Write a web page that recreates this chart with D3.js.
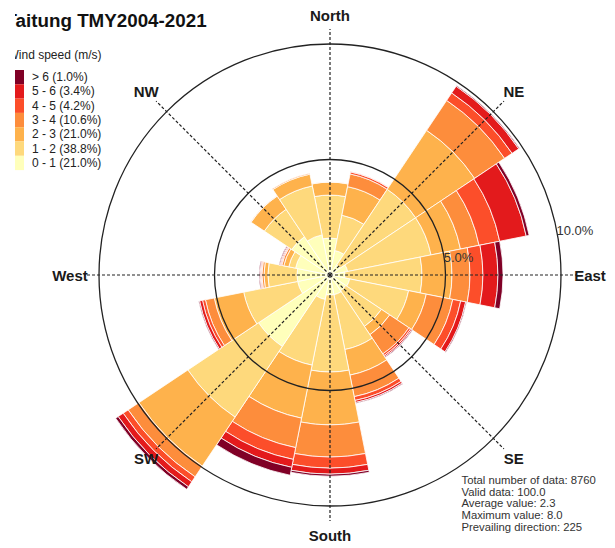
<!DOCTYPE html>
<html>
<head>
<meta charset="utf-8">
<script src="https://cdn.jsdelivr.net/npm/d3@7"></script>
<style>
  html, body { margin: 0; padding: 0; background: #fff; }
  svg { display: block; }
  text { font-family: "Liberation Sans", Arial, sans-serif; }
</style>
</head>
<body>
<svg id="chart" width="615" height="548"></svg>
<script>
// ---------------- data ----------------
const directions = ["N","NNE","NE","ENE","E","ESE","SE","SSE","S","SSW","SW","WSW","W","WNW","NW","NNW"];
const speedBins  = ["0 - 1","1 - 2","2 - 3","3 - 4","4 - 5","5 - 6","> 6"];
const binShare   = [21.0, 38.8, 21.0, 10.6, 4.2, 3.4, 1.0];

// frequency (%) per direction for each speed class
const s0_1 = [1.60,1.08,0.52,0.78,0.65,0.87,0.82,0.87,0.87,1.08,3.72,1.43,1.43,1.52,1.99,1.77];
const s1_2 = [1.86,1.56,3.94,3.68,3.33,2.60,1.86,2.42,3.33,2.90,3.68,2.38,1.26,0.30,1.43,2.16];
const s2_3 = [0.56,1.26,3.07,1.30,1.30,0.78,0.43,1.13,2.29,2.34,2.55,1.30,0.17,0.22,0.69,0.52];
const s3_4 = [0.02,0.56,1.56,0.82,0.78,1.17,1.00,0.95,1.39,1.30,0.56,0.39,0.09,0.09,0.02,0.04];
const s4_5 = [0.00,0.09,0.39,0.91,0.56,0.35,0.09,0.17,0.48,0.52,0.26,0.13,0.04,0.04,0.00,0.00];
const s5_6 = [0.00,0.02,0.35,1.17,0.65,0.22,0.06,0.09,0.26,0.35,0.26,0.13,0.04,0.04,0.00,0.00];
const s6p  = [0.00,0.00,0.04,0.13,0.22,0.04,0.04,0.04,0.09,0.35,0.13,0.04,0.04,0.04,0.00,0.00];
const series = [s0_1, s1_2, s2_3, s3_4, s4_5, s5_6, s6p];

const gridValues = [5, 10];
const gridLabels = ["5.0%", "10.0%"];
const compassLabels = ["North","NE","East","SE","South","SW","West","NW"];

const title = "Taitung TMY2004-2021";
const legendTitle = "Wind speed (m/s)";
const statsLines = [
  "Total number of data: 8760",
  "Valid data: 100.0",
  "Average value: 2.3",
  "Maximum value: 8.0",
  "Prevailing direction: 225"
];

// ---------------- styles / layout ----------------
const colors = ["#ffffbb","#fed97c","#feb24c","#fd8d3c","#fc4e2a","#e31a1c","#800026"];
const W = 615, H = 548, cx = 330, cy = 275;

const svg = d3.select("#chart");
svg.append("defs").append("clipPath").attr("id","clip")
  .append("rect").attr("x",15).attr("y",0).attr("width",W-15).attr("height",H);
const root = svg.append("g").attr("clip-path","url(#clip)");

const r = d3.scaleLinear().domain([0, 10]).range([0, 231]);
const angle = d3.scaleBand().domain(directions).range([-Math.PI/16, 2*Math.PI - Math.PI/16]);

// stacked data
const stacked = [];
directions.forEach((d, i) => {
  let cum = 0;
  series.forEach((s, k) => {
    const v = s[i];
    if (v > 0) stacked.push({dir: d, k, y0: cum, y1: cum + v});
    cum += v;
  });
});

const arc = d3.arc()
  .innerRadius(d => r(d.y0))
  .outerRadius(d => r(d.y1))
  .startAngle(d => angle(d.dir))
  .endAngle(d => angle(d.dir) + angle.bandwidth());

const plot = root.append("g").attr("transform", `translate(${cx},${cy})`);

plot.selectAll("path.band").data(stacked).join("path")
  .attr("class","band")
  .attr("d", arc)
  .attr("fill", d => colors[d.k])
  .attr("stroke", "#fff")
  .attr("stroke-width", 0.8);

// grid circles
plot.selectAll("circle.grid").data(gridValues).join("circle")
  .attr("class","grid")
  .attr("r", d => r(d))
  .attr("fill","none")
  .attr("stroke","#222")
  .attr("stroke-width",1.3);

// dashed spokes
const spokeAngles = d3.range(8).map(i => i * Math.PI / 4);
plot.selectAll("line.spoke").data(spokeAngles).join("line")
  .attr("class","spoke")
  .attr("x1",0).attr("y1",0)
  .attr("x2", a => Math.sin(a) * 246)
  .attr("y2", a => -Math.cos(a) * 246)
  .attr("stroke","#222")
  .attr("stroke-width",1.2)
  .attr("stroke-dasharray","3,2");

// compass labels
plot.selectAll("text.compass").data(compassLabels).join("text")
  .attr("class","compass")
  .attr("x", (d,i) => Math.sin(spokeAngles[i]) * 260)
  .attr("y", (d,i) => -Math.cos(spokeAngles[i]) * 260)
  .attr("text-anchor","middle")
  .attr("dominant-baseline","central")
  .attr("font-size",15)
  .attr("font-weight","bold")
  .attr("fill","#1a1a1a")
  .text(d => d);

// grid labels
const gridLabelDy = [13, 40];
plot.selectAll("text.glabel").data(gridValues).join("text")
  .attr("class","glabel")
  .attr("x", (d,i) => Math.sqrt(r(d)*r(d) - gridLabelDy[i]*gridLabelDy[i]) - 1)
  .attr("y", (d,i) => -gridLabelDy[i])
  .attr("font-size",13)
  .attr("fill","#333")
  .text((d,i) => gridLabels[i]);

// title
root.append("text")
  .attr("x",5.5).attr("y",27)
  .attr("font-size",18.8)
  .attr("font-weight","bold")
  .attr("fill","#111")
  .text(title);

// legend
root.append("text")
  .attr("x",7.5).attr("y",59)
  .attr("font-size",12)
  .attr("fill","#222")
  .text(legendTitle);

const rowH = 14.3, legTop = 70;
const legendOrder = d3.range(speedBins.length).reverse();
const leg = root.append("g");
leg.selectAll("rect").data(legendOrder).join("rect")
  .attr("x",10).attr("y",(k,i) => legTop + i*rowH)
  .attr("width",14).attr("height",rowH)
  .attr("fill", k => colors[k]);
leg.selectAll("text").data(legendOrder).join("text")
  .attr("x",32).attr("y",(k,i) => legTop + i*rowH + rowH/2)
  .attr("dominant-baseline","central")
  .attr("font-size",12)
  .attr("fill","#222")
  .text(k => `${speedBins[k]} (${binShare[k].toFixed(1)}%)`);

// stats
root.append("g").selectAll("text").data(statsLines).join("text")
  .attr("x",461.5).attr("y",(d,i) => 484 + i*11.7)
  .attr("font-size",11.3)
  .attr("fill","#333")
  .text(d => d);
</script>
</body>
</html>
